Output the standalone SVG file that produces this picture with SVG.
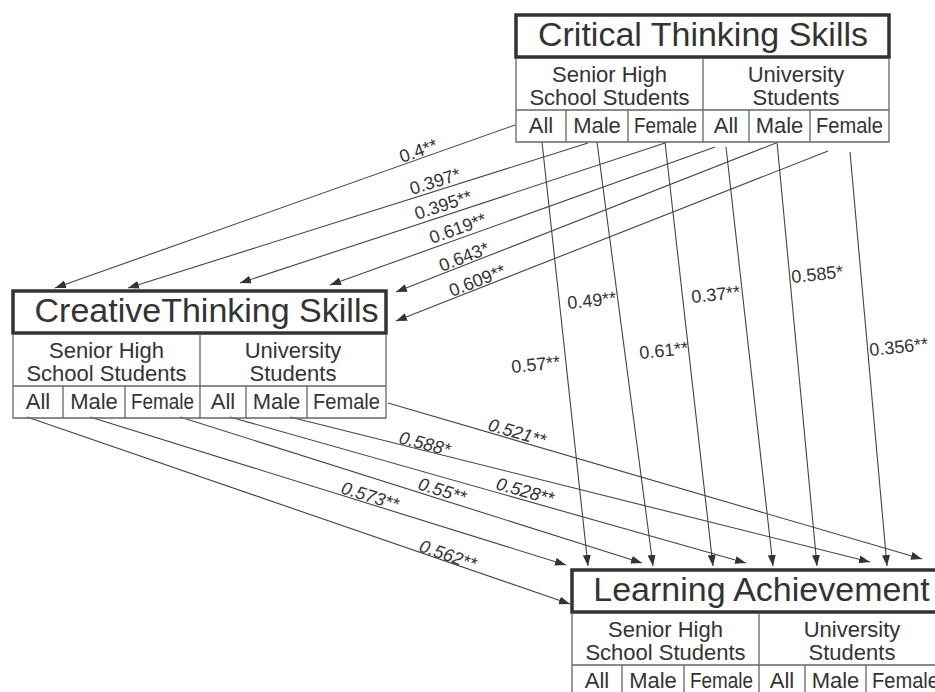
<svg xmlns="http://www.w3.org/2000/svg" width="935" height="692" viewBox="0 0 935 692">
  <style>
    text { font-family: "Liberation Sans", Arial, sans-serif; fill: #333; }
    .title { font-size: 34px; text-anchor: middle; }
    .hdr { font-size: 22px; text-anchor: middle; }
    .cell { font-size: 22px; text-anchor: middle; }
    .tbox { fill: #fff; stroke: #333; stroke-width: 3.5; }
    .grid { fill: none; stroke: #666; stroke-width: 1.3; }
    .edge { fill: none; stroke: #444; stroke-width: 1.1; marker-end: url(#arrow); }
    .lbl { font-size: 18px; }
    .lbl-i { font-size: 18px; font-style: italic; }
  </style>
  <defs>
    <marker id="arrow" markerUnits="userSpaceOnUse" markerWidth="12" markerHeight="10" refX="11" refY="4" orient="auto">
      <path d="M0,0 L11,4 L0,8 z" fill="#333"/>
    </marker>
  </defs>

  <rect x="0" y="0" width="935" height="692" fill="#fff"/>

  <!-- connectors -->
  <g id="connectors">
    <!-- critical thinking -> creative thinking -->
    <line class="edge" x1="515" y1="125" x2="55" y2="288"/>
    <line class="edge" x1="588" y1="143" x2="128" y2="288"/>
    <line class="edge" x1="665" y1="143" x2="240" y2="283"/>
    <line class="edge" x1="715" y1="147" x2="330" y2="285"/>
    <line class="edge" x1="776" y1="143" x2="396" y2="292"/>
    <line class="edge" x1="828" y1="151" x2="396" y2="321"/>
    <!-- critical thinking -> learning achievement -->
    <line class="edge" x1="542" y1="142" x2="588" y2="566"/>
    <line class="edge" x1="597" y1="142" x2="653" y2="566"/>
    <line class="edge" x1="665" y1="142" x2="713" y2="566"/>
    <line class="edge" x1="726" y1="147" x2="773" y2="566"/>
    <line class="edge" x1="777" y1="142" x2="817" y2="566"/>
    <line class="edge" x1="850" y1="152" x2="887" y2="566"/>
    <!-- creative thinking -> learning achievement -->
    <line class="edge" x1="27" y1="417" x2="570" y2="604"/>
    <line class="edge" x1="90" y1="417" x2="566" y2="565"/>
    <line class="edge" x1="180" y1="417" x2="642" y2="563"/>
    <line class="edge" x1="230" y1="417" x2="746" y2="563"/>
    <line class="edge" x1="290" y1="417" x2="870" y2="562"/>
    <line class="edge" x1="388" y1="403" x2="922" y2="559"/>

    <!-- coefficients -->
    <text class="lbl" transform="translate(402,163) rotate(-19.4)">0.4**</text>
    <text class="lbl" transform="translate(412,195) rotate(-17.4)">0.397*</text>
    <text class="lbl" transform="translate(417,220) rotate(-18.2)">0.395**</text>
    <text class="lbl" transform="translate(432,244) rotate(-19.6)">0.619**</text>
    <text class="lbl" transform="translate(442,272) rotate(-21.5)">0.643*</text>
    <text class="lbl" transform="translate(452,297) rotate(-21.4)">0.609**</text>

    <text class="lbl" transform="translate(512,373) rotate(-6)">0.57**</text>
    <text class="lbl" transform="translate(568,309) rotate(-6)">0.49**</text>
    <text class="lbl" transform="translate(640,359) rotate(-6)">0.61**</text>
    <text class="lbl" transform="translate(692,303) rotate(-6)">0.37**</text>
    <text class="lbl" transform="translate(792,283) rotate(-6)">0.585*</text>
    <text class="lbl" transform="translate(870,356) rotate(-6)">0.356**</text>

    <text class="lbl-i" transform="translate(418,551) rotate(19.2)">0.562**</text>
    <text class="lbl-i" transform="translate(340,493) rotate(17.3)">0.573**</text>
    <text class="lbl-i" transform="translate(417,489) rotate(17.4)">0.55**</text>
    <text class="lbl-i" transform="translate(495,489) rotate(15.7)">0.528**</text>
    <text class="lbl-i" transform="translate(398,443) rotate(14.4)">0.588*</text>
    <text class="lbl-i" transform="translate(487,430) rotate(16.3)">0.521**</text>
  </g>

  <!-- Critical Thinking Skills -->
  <g id="critical-thinking" transform="translate(516,15)">
    <rect class="tbox" x="0" y="0" width="373" height="42"/>
    <path class="grid" d="M0,43 V127 H373 V43 M0,95 H373 M187,43 V127 M50,95 V127 M112,95 V127 M233,95 V127 M294,95 V127"/>
    <text class="title" x="187" y="31">Critical Thinking Skills</text>
    <text class="hdr" x="93.5" y="67">Senior High</text>
    <text class="hdr" x="93.5" y="90">School Students</text>
    <text class="hdr" x="280" y="67">University</text>
    <text class="hdr" x="280" y="90">Students</text>
    <text class="cell" x="25" y="118">All</text>
    <text class="cell" x="81" y="118">Male</text>
    <text class="cell" x="149.5" y="118" textLength="63" lengthAdjust="spacingAndGlyphs">Female</text>
    <text class="cell" x="210" y="118">All</text>
    <text class="cell" x="263.5" y="118">Male</text>
    <text class="cell" x="333.5" y="118" textLength="67" lengthAdjust="spacingAndGlyphs">Female</text>
  </g>

  <!-- Creative Thinking Skills -->
  <g id="creative-thinking" transform="translate(13,291)">
    <rect class="tbox" x="0" y="0" width="373" height="42"/>
    <path class="grid" d="M0,43 V127 H373 V43 M0,95 H373 M187,43 V127 M50,95 V127 M112,95 V127 M233,95 V127 M294,95 V127"/>
    <text class="title" x="193.5" y="31">CreativeThinking Skills</text>
    <text class="hdr" x="93.5" y="67">Senior High</text>
    <text class="hdr" x="93.5" y="90">School Students</text>
    <text class="hdr" x="280" y="67">University</text>
    <text class="hdr" x="280" y="90">Students</text>
    <text class="cell" x="25" y="118">All</text>
    <text class="cell" x="81" y="118">Male</text>
    <text class="cell" x="149.5" y="118" textLength="63" lengthAdjust="spacingAndGlyphs">Female</text>
    <text class="cell" x="210" y="118">All</text>
    <text class="cell" x="263.5" y="118">Male</text>
    <text class="cell" x="333.5" y="118" textLength="67" lengthAdjust="spacingAndGlyphs">Female</text>
  </g>

  <!-- Learning Achievement -->
  <g id="learning-achievement" transform="translate(572,570)">
    <rect class="tbox" x="0" y="0" width="373" height="42"/>
    <path class="grid" d="M0,43 V127 H373 V43 M0,95 H373 M187,43 V127 M50,95 V127 M112,95 V127 M233,95 V127 M294,95 V127"/>
    <text class="title" x="189.5" y="31">Learning Achievement</text>
    <text class="hdr" x="93.5" y="67">Senior High</text>
    <text class="hdr" x="93.5" y="90">School Students</text>
    <text class="hdr" x="280" y="67">University</text>
    <text class="hdr" x="280" y="90">Students</text>
    <text class="cell" x="25" y="118">All</text>
    <text class="cell" x="81" y="118">Male</text>
    <text class="cell" x="149.5" y="118" textLength="63" lengthAdjust="spacingAndGlyphs">Female</text>
    <text class="cell" x="210" y="118">All</text>
    <text class="cell" x="263.5" y="118">Male</text>
    <text class="cell" x="333.5" y="118" textLength="67" lengthAdjust="spacingAndGlyphs">Female</text>
  </g>
</svg>
